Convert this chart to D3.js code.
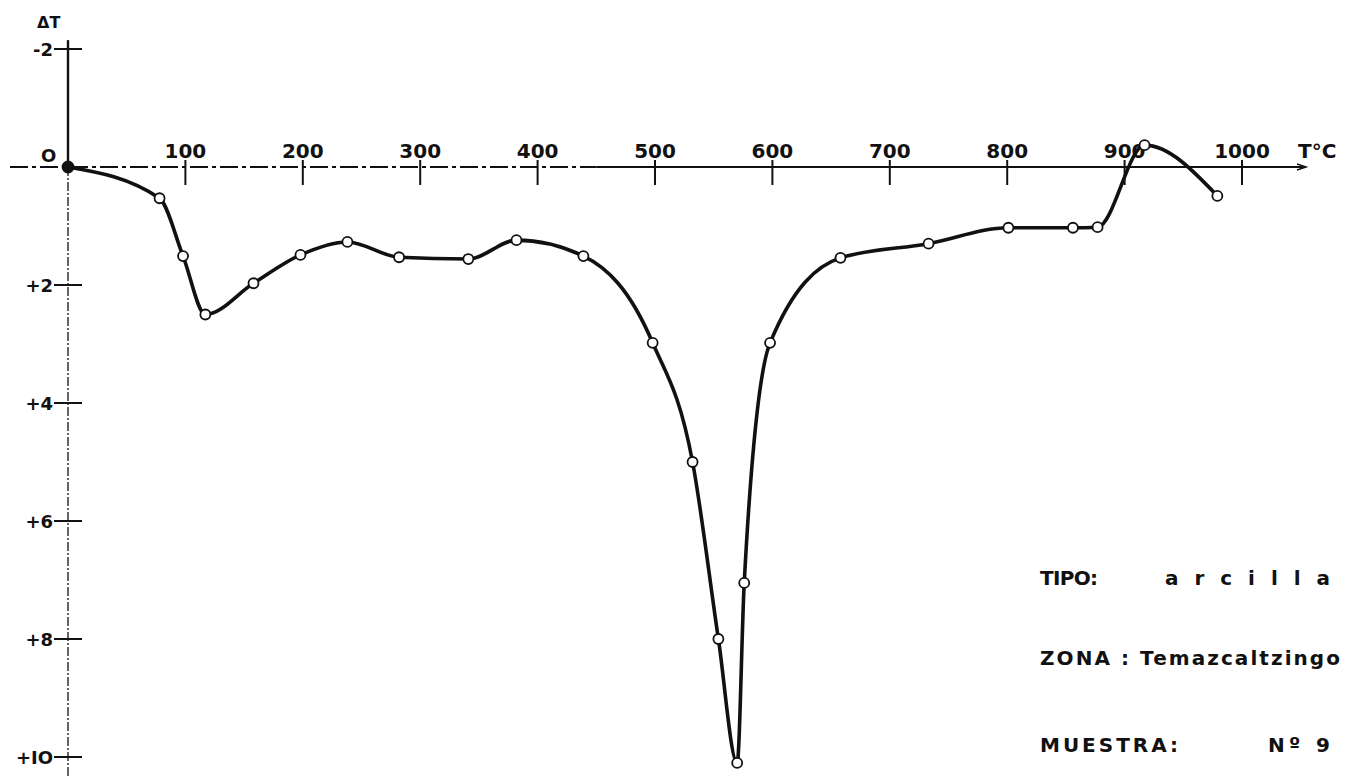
<!DOCTYPE html>
<html lang="es">
<head>
<meta charset="UTF-8">
<title>ATD - Muestra 9</title>
<script src="https://d3js.org/d3.v7.min.js"></script>
<style>
  body { margin: 0; background: #fff; }
  text { font-family: "DejaVu Sans", sans-serif; font-weight: bold; fill: #111; }
  .tick-x { font-size: 20px; }
  .tick-y { font-size: 18px; }
  .info { font-size: 20px; }
</style>
</head>
<body>
<div id="chart"></div>
<script>
var width = 1353, height = 778;

// temperature (°C) and differential temperature readings
var temps  = [0, 78, 98, 117, 158, 198, 238, 282, 341, 382, 439, 498, 532, 554, 570, 576, 598, 658, 733, 801, 856, 877, 917, 979];
var deltaT = [0, 0.53, 1.51, 2.5, 1.97, 1.49, 1.27, 1.53, 1.56, 1.24, 1.51, 2.98, 5.0, 8.0, 10.1, 7.05, 2.98, 1.54, 1.3, 1.03, 1.03, 1.02, -0.37, 0.49];

var xTicks = [100, 200, 300, 400, 500, 600, 700, 800, 900, 1000];
var yTicks = [-2, 2, 4, 6, 8, 10];
var yTickLabels = ["-2", "+2", "+4", "+6", "+8", "+IO"];

// sample info: [text, x, baseline, width]
var infoText = [
  ["TIPO:", 1040, 585, 58],
  ["arcilla", 1165, 585, 165],
  ["ZONA : Temazcaltzingo", 1040, 665, 300],
  ["MUESTRA:", 1040, 752, 138],
  ["Nº 9", 1268, 752, 62]
];

var svg = d3.select("#chart").append("svg")
    .attr("width", width)
    .attr("height", height);

var x = d3.scaleLinear().domain([0, 1000]).range([68, 1242]);
var y = d3.scaleLinear().domain([0, 10]).range([167, 757]);

// y axis: solid above zero, faint below
svg.append("line")
    .attr("x1", x(0)).attr("x2", x(0))
    .attr("y1", y(-2.15)).attr("y2", y(0))
    .attr("stroke", "#111").attr("stroke-width", 2.4);
svg.append("line")
    .attr("x1", x(0)).attr("x2", x(0))
    .attr("y1", y(0)).attr("y2", height)
    .attr("stroke", "#555").attr("stroke-width", 1.8)
    .attr("stroke-dasharray", "9,2,2,2");

// x axis: dash-dot on the left part, solid further on
svg.append("line")
    .attr("x1", 10).attr("x2", x(450))
    .attr("y1", y(0)).attr("y2", y(0))
    .attr("stroke", "#111").attr("stroke-width", 2)
    .attr("stroke-dasharray", "18,4,4,4");
svg.append("line")
    .attr("x1", x(450)).attr("x2", 1305)
    .attr("y1", y(0)).attr("y2", y(0))
    .attr("stroke", "#111").attr("stroke-width", 2);
svg.append("path")
    .attr("d", "M1297,164 L1306,167 L1297,170")
    .attr("fill", "none").attr("stroke", "#111").attr("stroke-width", 1.5);

// x ticks
svg.selectAll(".xt").data(xTicks).enter().append("line")
    .attr("x1", function(d) { return x(d); }).attr("x2", function(d) { return x(d); })
    .attr("y1", y(0) - 7).attr("y2", y(0) + 18)
    .attr("stroke", "#111").attr("stroke-width", 2);
svg.selectAll(".xl").data(xTicks).enter().append("text")
    .attr("class", "tick-x")
    .attr("x", function(d) { return x(d); })
    .attr("y", y(0) - 9)
    .attr("text-anchor", "middle")
    .text(function(d) { return d; });
svg.append("text").attr("class", "tick-x")
    .attr("x", 1298).attr("y", y(0) - 9)
    .text("T°C");

// y ticks
svg.selectAll(".yt").data(yTicks).enter().append("line")
    .attr("x1", x(0) - 14).attr("x2", x(0) + 14)
    .attr("y1", function(d) { return y(d); }).attr("y2", function(d) { return y(d); })
    .attr("stroke", "#111").attr("stroke-width", 2);
svg.selectAll(".yl").data(yTicks).enter().append("text")
    .attr("class", "tick-y")
    .attr("x", x(0) - 15)
    .attr("y", function(d) { return y(d) + 7; })
    .attr("text-anchor", "end")
    .text(function(d, i) { return yTickLabels[i]; });
svg.append("text").attr("class", "tick-y")
    .attr("x", 41).attr("y", y(0) - 5).text("O");
svg.append("text").attr("class", "tick-y")
    .attr("x", 37).attr("y", 28).style("font-size", "16px").text("ΔT");

// curve
var line = d3.line()
    .x(function(d, i) { return x(temps[i]); })
    .y(function(d) { return y(d); })
    .curve(d3.curveMonotoneX);

svg.append("path")
    .datum(deltaT)
    .attr("d", line)
    .attr("fill", "none")
    .attr("stroke", "#111")
    .attr("stroke-width", 3.6);

svg.selectAll(".pt").data(deltaT).enter().append("circle")
    .attr("cx", function(d, i) { return x(temps[i]); })
    .attr("cy", function(d) { return y(d); })
    .attr("r", function(d, i) { return i === 0 ? 5.5 : 5; })
    .attr("fill", function(d, i) { return i === 0 ? "#111" : "#fff"; })
    .attr("stroke", "#111")
    .attr("stroke-width", 1.8);

// sample info
svg.selectAll(".info").data(infoText).enter().append("text")
    .attr("class", "info")
    .attr("x", function(d) { return d[1]; })
    .attr("y", function(d) { return d[2]; })
    .attr("textLength", function(d) { return d[3]; })
    .attr("lengthAdjust", "spacing")
    .text(function(d) { return d[0]; });
</script>
</body>
</html>
